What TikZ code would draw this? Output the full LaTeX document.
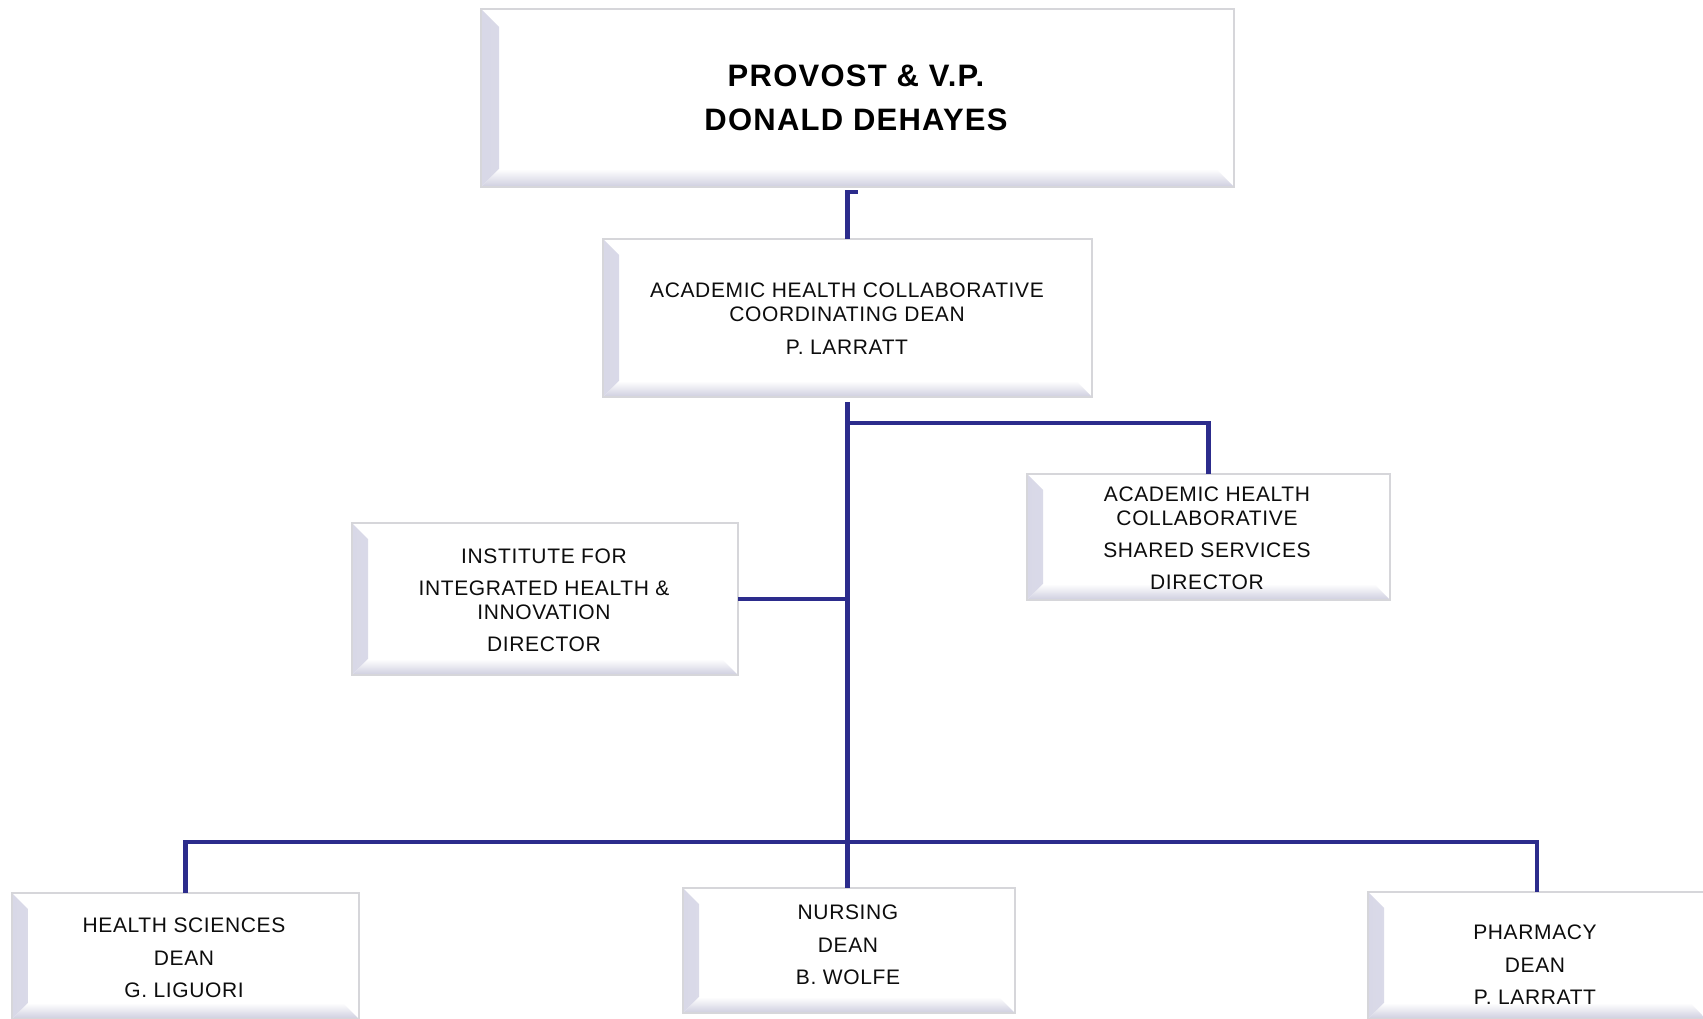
\documentclass[tikz,border=0pt]{standalone}
\usepackage{fontspec}
\setmainfont{Liberation Sans}
\definecolor{connc}{RGB}{44,44,140}
\definecolor{edgegray}{RGB}{214,214,218}
\definecolor{bevL}{RGB}{216,216,231}
\definecolor{bevB}{RGB}{206,206,223}
\def\bev{16pt}
\tikzset{
  bevw/.code={\def\bev{#1}},
  bevelbox/.style={draw=edgegray, line width=2.5pt, fill=white, inner sep=0pt, outer sep=0pt,
    path picture={
      \shade[left color=bevL, right color=white]
        (path picture bounding box.south west) -- (path picture bounding box.north west)
        -- ([xshift=\bev, yshift=-\bev]path picture bounding box.north west)
        -- ([xshift=\bev, yshift=\bev]path picture bounding box.south west) -- cycle;
      \shade[bottom color=bevB, top color=white]
        (path picture bounding box.south west) -- (path picture bounding box.south east)
        -- ([xshift=-\bev, yshift=\bev]path picture bounding box.south east)
        -- ([xshift=\bev, yshift=\bev]path picture bounding box.south west) -- cycle;
    }},
  boxtext/.style={inner sep=0pt, align=center, text=black!95,
    font=\fontsize{21}{24}\selectfont\addfontfeature{LetterSpace=3}},
  toptext/.style={inner sep=0pt, align=center, text=black,
    font=\fontsize{31}{44}\selectfont\bfseries\addfontfeature{LetterSpace=4}},
  linkline/.style={draw=connc, line width=4.5pt},
}
\begin{document}
\begin{tikzpicture}[x=1pt,y=-1pt]
\useasboundingbox (0,0) rectangle (1703,1018);
\clip (0,0) rectangle (1703,1018);
\fill[white] (0,0) rectangle (1703,1018);

% boxes
\node[bevelbox, bevw=18pt, minimum width=753pt, minimum height=178pt] (prov) at (857.5,98) {};
\node[bevelbox, minimum width=489pt, minimum height=158pt] (ahc) at (847.5,318) {};
\node[bevelbox, minimum width=363pt, minimum height=126pt] (shared) at (1208.5,537) {};
\node[bevelbox, minimum width=386pt, minimum height=152pt] (inst) at (545,599) {};
\node[bevelbox, minimum width=347pt, minimum height=126pt] (health) at (185.5,956) {};
\node[bevelbox, minimum width=332pt, minimum height=125pt] (nurs) at (849,950.5) {};
\node[bevelbox, minimum width=338pt, minimum height=127pt] (pharm) at (1537,955.5) {};

% texts
\node[toptext] (provT) at (856,98) {PROVOST \& V.P.\\DONALD DEHAYES};
\node[boxtext] (ahcT) at (847,318.5) {ACADEMIC HEALTH COLLABORATIVE\\COORDINATING DEAN\\[9pt]P. LARRATT};
\node[boxtext] (sharedT) at (1207,538) {ACADEMIC HEALTH\\COLLABORATIVE\\[8pt]SHARED SERVICES\\[8pt]DIRECTOR};
\node[boxtext] (instT) at (544,600) {INSTITUTE FOR\\[8pt]INTEGRATED HEALTH \&\\INNOVATION\\[8pt]DIRECTOR};
\node[boxtext] (healthT) at (184,958) {HEALTH SCIENCES\\[9pt]DEAN\\[8pt]G. LIGUORI};
\node[boxtext] (nursT) at (848,945) {NURSING\\[9pt]DEAN\\[8pt]B. WOLFE};
\node[boxtext] (pharmT) at (1535,964.5) {PHARMACY\\[9pt]DEAN\\[8pt]P. LARRATT};

% connectors
\coordinate (jr) at ([yshift=-26pt]ahc.south);
\coordinate (bus) at (ahc.south |- 0,842);
\draw[linkline] ([yshift=-5pt]prov.south) -| (ahc.north);
\draw[linkline] ([yshift=-5pt]ahc.south) -- (ahc.south |- nurs.north);
\draw[linkline] (jr) -| (shared.north);
\draw[linkline] (inst.east) -- (inst.east -| ahc.south);
\draw[linkline] (health.north) |- (bus) -| (pharm.north);
\end{tikzpicture}
\end{document}
